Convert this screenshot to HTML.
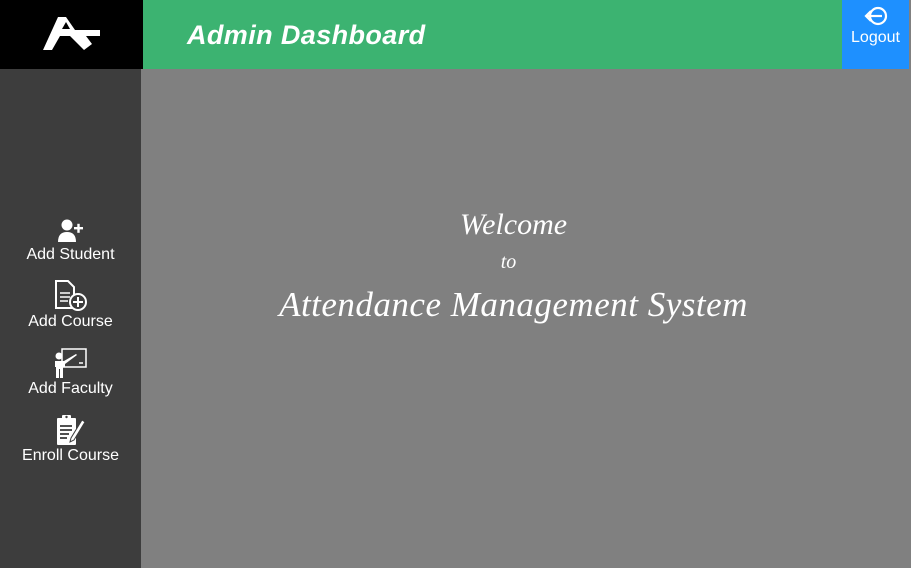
<!DOCTYPE html>
<html><head><meta charset="utf-8"><style>
*{margin:0;padding:0;box-sizing:border-box}
body{width:911px;height:568px;overflow:hidden;background:#808080;font-family:"Liberation Sans",sans-serif;position:relative}
#logo{position:absolute;left:0;top:0;width:143px;height:69px;background:#000}
#hdr{position:absolute;left:143px;top:0;width:699px;height:69px;background:#3cb371}
#hdr h1{position:absolute;left:44px;top:20px;color:#fff;font-style:italic;font-weight:bold;font-size:27px;letter-spacing:0.4px;font-family:"Liberation Sans",sans-serif}
#logout{position:absolute;left:842px;top:0;width:67px;height:69px;background:#1e90ff;color:#fff;text-align:center;font-size:16px}
#side{position:absolute;left:0;top:69px;width:141px;height:499px;background:#3d3d3d}
.item{position:absolute;left:0;width:141px;text-align:center;color:#fff;font-size:16px}
.item svg{display:block;margin:0 auto}
#main{position:absolute;left:141px;top:69px;width:770px;height:499px;color:#fff;font-family:"Liberation Serif",serif;font-style:italic;text-align:center}
</style></head><body>
<div id="logo">
<svg width="143" height="69" viewBox="0 0 143 69"><polygon points="43,50 58,17 66,17 75,30 100,30 100,36 86,36 92,44 84,50 70,36 60,36 52,50" fill="#fff"/><polygon points="62,29 66,22 70,29" fill="#000"/></svg>
</div>
<div id="hdr"><h1>Admin Dashboard</h1></div>
<div id="logout">
<svg width="26" height="20" viewBox="0 0 26 20" style="display:block;margin:6px auto 0"><circle cx="15" cy="10" r="8" fill="none" stroke="#fff" stroke-width="2.2"/><rect x="11" y="5" width="8" height="10" fill="#1e90ff"/><line x1="3" y1="10" x2="19" y2="10" stroke="#fff" stroke-width="2.2"/><polyline points="8,5 3,10 8,15" fill="none" stroke="#fff" stroke-width="2.2"/></svg>
<div style="margin-top:3px">Logout</div></div>
<div id="side">
<div class="item" style="top:149px">
<svg width="28" height="26" viewBox="0 0 28 24"><circle cx="10" cy="6" r="5.5" fill="#fff"/><path d="M1 23 Q1 13 10 13 Q19 13 19 23Z" fill="#fff"/><rect x="17" y="8" width="9" height="2.4" fill="#fff"/><rect x="20.3" y="4.8" width="2.4" height="9" fill="#fff"/></svg>
<div style="margin-top:2px">Add Student</div></div>
<div class="item" style="top:211px">
<svg width="34" height="32" viewBox="0 0 34 32"><path d="M2 1 H14 L20 7 V28 H2Z" fill="none" stroke="#fff" stroke-width="2"/><line x1="6" y1="13" x2="16" y2="13" stroke="#fff" stroke-width="1.5"/><line x1="6" y1="17" x2="16" y2="17" stroke="#fff" stroke-width="1.5"/><line x1="6" y1="21" x2="14" y2="21" stroke="#fff" stroke-width="1.5"/><circle cx="24" cy="22" r="8" fill="#3d3d3d" stroke="#fff" stroke-width="2"/><line x1="19" y1="22" x2="29" y2="22" stroke="#fff" stroke-width="2"/><line x1="24" y1="17" x2="24" y2="27" stroke="#fff" stroke-width="2"/></svg>
<div style="margin-top:1px">Add Course</div></div>
<div class="item" style="top:279px">
<svg width="34" height="31" viewBox="0 0 34 31"><rect x="8" y="1" width="24" height="18" fill="none" stroke="#fff" stroke-width="1.5"/><line x1="25" y1="15" x2="29" y2="15" stroke="#fff" stroke-width="1.5"/><circle cx="5" cy="8" r="3.5" fill="#fff"/><path d="M1 13 H10 L22 6 L23 7 L11 16 V19 H9 V30 H6 V21 H5 V30 H2 V19 H1Z" fill="#fff"/></svg>
<div style="margin-top:1px">Add Faculty</div></div>
<div class="item" style="top:345px">
<svg width="34" height="32" viewBox="0 0 34 32"><rect x="3" y="4" width="19" height="27" rx="1" fill="#fff"/><rect x="8" y="1" width="9" height="5" rx="1" fill="#fff"/><circle cx="12.5" cy="3" r="1.2" fill="#3d3d3d"/><line x1="6" y1="12" x2="18" y2="12" stroke="#3d3d3d" stroke-width="1.8"/><line x1="6" y1="16" x2="18" y2="16" stroke="#3d3d3d" stroke-width="1.8"/><line x1="6" y1="20" x2="15" y2="20" stroke="#3d3d3d" stroke-width="1.8"/><line x1="6" y1="24" x2="13" y2="24" stroke="#3d3d3d" stroke-width="1.8"/><path d="M28 6 L31 8 L20 26 L16 28 L17 24Z" fill="#fff" stroke="#3d3d3d" stroke-width="1"/></svg>
<div style="margin-top:1px">Enroll Course</div></div>
</div>
<div id="main">
<div style="position:absolute;left:0;width:745px;top:139px;font-size:30px">Welcome</div>
<div style="position:absolute;left:0;width:735px;top:182px;font-size:20px">to</div>
<div style="position:absolute;left:0;width:745px;top:216px;font-size:35px;letter-spacing:0.5px">Attendance Management System</div>
</div>
</body></html>
